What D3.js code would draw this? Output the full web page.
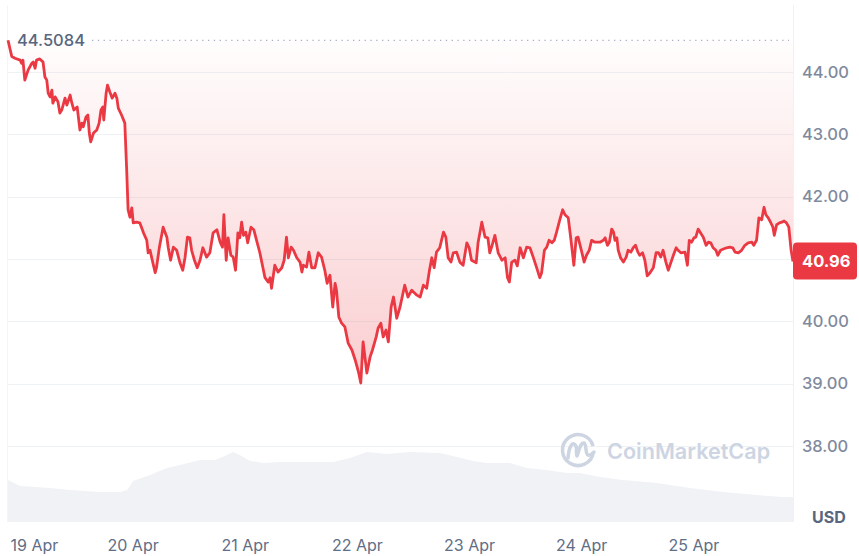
<!DOCTYPE html>
<html>
<head>
<meta charset="utf-8">
<script src="https://cdn.jsdelivr.net/npm/d3@7"></script>
<style>
  html, body { margin: 0; padding: 0; background: #fff; }
  svg { display: block; font-family: Inter, "Noto Sans", sans-serif; }
</style>
</head>
<body>
<svg id="chart" width="859" height="556"></svg>
<script>
// 7 Tage Kurs, Stunden ab Start -> Preis (USD)
const startTime = new Date(2024, 3, 18, 21, 20);
const openPrice = 44.5084;
const lastPrice = 40.96;

const price = [
  [0,44.51],[0.8,44.25],[1.5,44.22],[2.6,44.19],[2.9,44.14],[3.2,44.19],[3.6,43.87],[4.3,44.03],
  [5.1,44.14],[5.4,44.16],[5.8,44.06],[6.1,44.19],[6.8,44.21],[7.5,44.16],[7.9,43.92],[8.3,43.87],
  [8.6,43.66],[9.0,43.60],[9.4,43.71],[9.6,43.50],[10.1,43.60],[10.7,43.52],[11.1,43.34],[11.5,43.39],
  [11.8,43.47],[12.2,43.58],[12.6,43.47],[13.3,43.63],[13.6,43.52],[14.1,43.39],[14.8,43.44],[15.4,43.07],
  [15.8,43.18],[16.1,43.12],[16.7,43.28],[17.1,43.31],[17.4,43.02],[17.7,42.88],[18.3,43.02],[19.0,43.07],
  [19.5,43.18],[19.9,43.39],[20.3,43.44],[20.5,43.23],[21.0,43.66],[21.3,43.79],[21.8,43.68],[22.3,43.58],
  [22.9,43.66],[23.3,43.58],[23.6,43.42],[24.3,43.31],[25.0,43.18],[25.4,42.43],[25.7,41.79],[26.1,41.67],
  [26.5,41.82],[26.8,41.58],[27.5,41.59],[28.2,41.58],[29.0,41.42],[29.7,41.30],[30.0,41.10],[30.4,41.14],
  [31.0,40.94],[31.5,40.78],[31.8,40.87],[32.4,41.19],[33.2,41.51],[34.0,41.35],[34.3,41.18],[34.8,40.98],
  [35.4,41.19],[36.1,41.14],[36.8,40.94],[37.4,40.82],[37.9,41.03],[38.4,41.35],[38.9,41.34],[39.3,41.14],
  [39.9,40.98],[40.5,40.86],[41.1,40.98],[41.7,41.18],[42.5,41.03],[43.2,41.10],[43.9,41.42],[44.7,41.47],
  [45.4,41.27],[45.9,41.19],[46.2,41.71],[46.7,40.98],[47.1,41.34],[47.7,41.06],[48.2,41.03],[48.7,40.82],
  [49.2,41.42],[49.6,41.34],[50.0,41.59],[50.4,41.38],[50.9,41.43],[51.3,41.26],[52.0,41.51],[52.6,41.47],
  [53.2,41.30],[53.9,41.10],[55.0,40.70],[55.7,40.63],[56.1,40.70],[56.4,40.53],[57.1,40.90],[57.8,40.79],
  [58.6,40.86],[59.1,40.98],[59.6,41.35],[60.0,41.02],[60.6,41.19],[61.1,41.14],[61.8,41.02],[62.5,40.95],
  [62.9,40.79],[63.2,40.90],[63.9,40.87],[64.4,41.11],[65.0,40.86],[65.7,40.86],[66.4,41.10],[67.1,41.03],
  [67.8,40.82],[68.3,40.61],[68.9,40.74],[69.5,40.23],[70.0,40.61],[70.3,40.50],[70.8,40.07],[71.4,39.97],
  [72.1,39.91],[72.8,39.65],[73.6,39.54],[74.3,39.38],[75.0,39.19],[75.5,39.01],[76.0,39.67],[76.8,39.17],
  [77.5,39.43],[78.0,39.54],[78.8,39.75],[79.2,39.89],[79.8,39.97],[80.3,39.75],[80.9,39.86],[81.4,39.67],
  [82.0,40.23],[82.5,40.39],[83.2,40.05],[83.9,40.23],[84.9,40.58],[85.6,40.39],[86.4,40.50],[87.5,40.42],
  [88.2,40.39],[88.9,40.58],[89.6,40.53],[90.2,40.82],[90.7,41.02],[91.2,40.86],[91.7,41.11],[92.4,41.18],
  [93.2,41.43],[93.7,41.35],[94.2,41.02],[94.8,40.95],[95.3,41.10],[96.0,41.11],[96.7,40.95],[97.4,40.90],
  [98.2,41.26],[98.7,41.18],[99.2,40.98],[100.2,40.94],[100.6,41.26],[101.4,41.59],[102.1,41.35],[102.7,41.34],
  [103.1,41.10],[103.5,41.19],[104.2,41.38],[104.9,41.10],[105.7,40.98],[106.4,41.02],[106.9,40.70],[107.3,40.63],
  [107.8,40.95],[108.5,40.98],[109.0,40.89],[109.6,41.18],[110.3,41.02],[111.0,41.19],[111.7,41.18],[112.4,41.03],
  [113.1,40.87],[113.8,40.70],[114.2,40.78],[114.8,41.14],[115.3,41.19],[115.8,41.30],[116.4,41.26],[116.9,41.30],
  [117.4,41.43],[118.1,41.63],[118.7,41.79],[119.2,41.71],[119.9,41.66],[120.3,41.42],[120.8,41.10],[121.1,40.90],
  [121.6,41.34],[122.0,41.35],[122.8,41.11],[123.3,40.95],[123.8,41.06],[124.4,41.14],[124.9,41.30],[125.6,41.27],
  [126.7,41.27],[127.4,41.30],[127.8,41.34],[128.3,41.22],[128.7,41.27],[129.2,41.48],[129.6,41.43],[129.9,41.30],
  [130.3,41.34],[130.6,41.14],[131.1,41.02],[131.7,40.95],[132.3,41.03],[132.7,41.14],[133.3,41.11],[133.8,41.18],
  [134.3,41.22],[134.8,41.11],[135.2,41.06],[135.8,41.10],[136.3,40.98],[136.8,40.73],[137.4,40.78],[138.1,40.86],
  [138.7,41.10],[139.2,41.10],[139.7,41.03],[140.2,41.14],[140.8,40.95],[141.3,40.82],[141.9,40.95],[142.4,41.06],
  [143.0,41.18],[143.4,41.14],[144.0,41.10],[144.9,41.11],[145.4,40.90],[145.8,41.30],[146.3,41.27],[146.8,41.34],
  [147.2,41.35],[147.7,41.48],[148.2,41.42],[148.8,41.35],[149.4,41.22],[149.9,41.27],[150.4,41.26],[150.9,41.18],
  [151.5,41.14],[151.9,41.06],[152.5,41.14],[153.1,41.16],[153.8,41.18],[154.5,41.19],[155.1,41.18],[155.6,41.11],
  [156.3,41.10],[157.0,41.14],[157.7,41.22],[158.4,41.26],[159.2,41.27],[159.6,41.22],[160.2,41.30],[160.7,41.66],
  [161.3,41.63],[161.8,41.83],[162.2,41.71],[162.7,41.66],[163.2,41.59],[163.7,41.51],[164.0,41.38],[164.5,41.55],
  [165.1,41.58],[165.6,41.59],[166.1,41.61],[166.6,41.58],[167.1,41.51],[167.6,41.14],[168.0,40.96]
];

// Volumen (Mio. USD), Stunden ab Start
const volume = [
  [0,8.4],[2.6,7.2],[9.0,6.8],[13.3,6.4],[19.7,6.0],[24.0,6.0],[25.5,6.4],[26.8,8.2],[30.4,9.4],
  [34.0,10.8],[36.8,11.4],[41.1,12.4],[44.3,12.4],[46.4,13.2],[48.2,14.0],[49.6,13.4],[51.8,12.2],
  [55.0,11.8],[58.2,12.0],[62.5,12.0],[69.6,12.0],[73.2,12.8],[76.8,14.0],[81.1,13.6],[86.0,14.0],
  [92.4,13.8],[96.1,13.0],[99.5,12.2],[102.5,11.8],[107.4,11.8],[111.1,10.8],[115.3,10.4],[119.6,9.8],
  [122.4,9.8],[126.7,9.0],[131.6,8.4],[138.9,7.8],[146.0,6.8],[153.0,6.0],[160.3,5.4],[165.9,5.0],[168,5.0]
];

const yTicks = [38, 39, 40, 41, 42, 43, 44];
const dayTicks = [19, 20, 21, 22, 23, 24, 25];

const plotLeft = 8, plotRight = 793, plotTop = 5, plotBottom = 522;
const red = "#ea3943";

const hourToDate = h => new Date(startTime.getTime() + h * 3600e3);

const svg = d3.select("#chart");

const x = d3.scaleTime()
  .domain([hourToDate(0), hourToDate(168)])
  .range([plotLeft, plotRight]);

const y = d3.scaleLinear()
  .domain([38, 44])
  .range([446, 72]);

const yVol = d3.scaleLinear()
  .domain([0, 15])
  .range([plotBottom, plotBottom - 75]);

// Gradient für die Fläche zwischen Eröffnungskurs und Linie
const grad = svg.append("defs").append("linearGradient")
  .attr("id", "fillGrad")
  .attr("gradientUnits", "userSpaceOnUse")
  .attr("x1", 0).attr("x2", 0)
  .attr("y1", y(openPrice)).attr("y2", y(39));
grad.append("stop").attr("offset", "0%").attr("stop-color", red).attr("stop-opacity", 0.01);
grad.append("stop").attr("offset", "100%").attr("stop-color", red).attr("stop-opacity", 0.25);

// Gitter
svg.append("g")
  .selectAll("line")
  .data(yTicks)
  .join("line")
  .attr("x1", plotLeft - 1).attr("x2", plotRight)
  .attr("y1", d => Math.round(y(d)) + 0.5)
  .attr("y2", d => Math.round(y(d)) + 0.5)
  .attr("stroke", "#eff2f5");

svg.append("line")
  .attr("x1", plotRight + 0.5).attr("x2", plotRight + 0.5)
  .attr("y1", plotTop).attr("y2", plotBottom)
  .attr("stroke", "#eff2f5");
svg.append("line")
  .attr("x1", plotLeft - 0.5).attr("x2", plotLeft - 0.5)
  .attr("y1", plotTop).attr("y2", plotBottom)
  .attr("stroke", "#f3f5f8");

// Volumen
svg.append("path")
  .datum(volume)
  .attr("fill", "#f0f2f5")
  .attr("d", d3.area()
    .x(d => x(hourToDate(d[0])))
    .y0(plotBottom)
    .y1(d => yVol(d[1])));

// Wasserzeichen
const wm = svg.append("g").attr("fill", "none").attr("stroke", "#cdd5e3");
wm.append("path")
  .attr("stroke-width", 3.5)
  .attr("d", d3.arc()({ innerRadius: 15.5, outerRadius: 15.5, startAngle: 0.55 * Math.PI, endAngle: 2.42 * Math.PI }))
  .attr("transform", "translate(578,450)");
wm.append("path")
  .attr("stroke-width", 3.5)
  .attr("stroke-linecap", "round")
  .attr("stroke-linejoin", "round")
  .attr("d", "M568,458 C569,446 573,440 576,446 C577,450 576,456 577,456 C579,452 580,442 584,443 C587,445 585,454 588,455 C590,456 592,454 594,452");
svg.append("text")
  .attr("x", 607).attr("y", 459)
  .attr("fill", "#cdd5e3")
  .attr("font-size", 21.6)
  .attr("font-weight", 600)
  .text("CoinMarketCap");

// Fläche + Linie
const px = d => x(hourToDate(d[0]));
svg.append("path")
  .datum(price)
  .attr("fill", "url(#fillGrad)")
  .attr("d", d3.area().x(px).y0(y(openPrice)).y1(d => y(d[1])));

// Eröffnungslinie
svg.append("line")
  .attr("x1", 92).attr("x2", plotRight - 4)
  .attr("y1", y(openPrice)).attr("y2", y(openPrice))
  .attr("stroke", "#a6b0c3")
  .attr("stroke-width", 1.3)
  .attr("stroke-dasharray", "1.3,4.5");

svg.append("text")
  .attr("x", 17).attr("y", y(openPrice))
  .attr("dy", "0.36em")
  .attr("fill", "#58667e")
  .attr("font-size", 16.5)
  .attr("font-weight", 500)
  .text(d3.format(".4f")(openPrice));

svg.append("path")
  .datum(price)
  .attr("fill", "none")
  .attr("stroke", red)
  .attr("stroke-width", 2.8)
  .attr("stroke-linejoin", "round")
  .attr("d", d3.line().x(px).y(d => y(d[1])));

// y-Achse rechts (41.00 liegt unter dem Kurs-Badge und wird nicht gezeigt)
const yAxisG = svg.append("g")
  .attr("transform", `translate(${plotRight},0)`)
  .call(d3.axisRight(y)
    .tickValues(yTicks.filter(t => Math.abs(y(t) - y(lastPrice)) > 20))
    .tickFormat(d3.format(".2f")).tickSize(0).tickPadding(9));
yAxisG.select(".domain").remove();
yAxisG.selectAll("text")
  .attr("fill", "#808a9d")
  .attr("font-size", 16.5)
  .attr("font-weight", 500)
  .attr("font-family", "Inter, sans-serif");

// x-Achse
const dayDates = dayTicks.map(d => new Date(2024, 3, d));
const xAxisG = svg.append("g")
  .attr("transform", `translate(0,${plotBottom})`)
  .call(d3.axisBottom(x).tickValues(dayDates).tickFormat(d3.timeFormat("%-d %b")).tickSize(0).tickPadding(18));
xAxisG.select(".domain").remove();
xAxisG.selectAll("text")
  .attr("fill", "#616e85")
  .attr("font-size", 16)
  .attr("font-family", "Inter, sans-serif")
  .each(function () {
    const t = d3.select(this);
    const w = this.getComputedTextLength();
    const cx = x(t.datum());
    if (cx - w / 2 < 10) t.attr("text-anchor", "start").attr("x", 10 - cx);
  });

// aktueller Kurs
const badge = svg.append("g").attr("transform", `translate(${plotRight},${y(lastPrice)})`);
badge.append("rect")
  .attr("x", 0).attr("y", -19)
  .attr("width", 64).attr("height", 37)
  .attr("rx", 4)
  .attr("fill", red);
badge.append("text")
  .attr("x", 9).attr("dy", "0.36em")
  .attr("fill", "#fff")
  .attr("font-size", 16.5)
  .attr("font-weight", 700)
  .text(d3.format(".2f")(lastPrice));

svg.append("text")
  .attr("x", 812).attr("y", 517)
  .attr("dy", "0.36em")
  .attr("fill", "#58667e")
  .attr("font-size", 16)
  .attr("font-weight", 700)
  .text("USD");
</script>
</body>
</html>
